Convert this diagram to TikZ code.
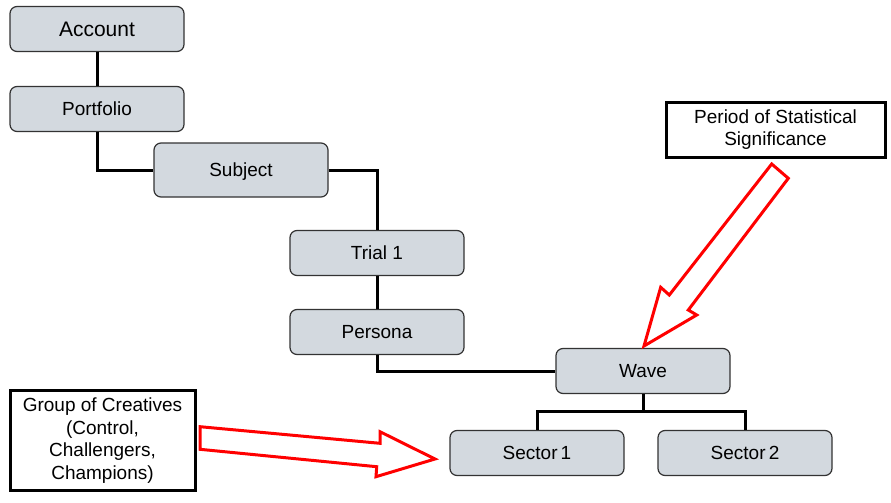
\documentclass[tikz,border=0pt]{standalone}
\usepackage{fontspec}
\setmainfont{Liberation Sans}
\begin{document}
\begin{tikzpicture}[x=1pt,y=-1pt,
  box/.style={draw=black!80, line width=1.2pt, fill=boxfill, rounded corners=7pt,
    minimum width=174pt, minimum height=45pt, inner sep=0pt, text depth=0pt,
    font=\fontsize{19}{23}\selectfont},
  note/.style={draw=black, line width=3pt, fill=white, inner sep=0pt, align=center,
    font=\fontsize{19}{22.8}\selectfont},
  link/.style={draw=black, line width=3pt},
  redarrow/.style={draw=red, line width=3pt, fill=white, line join=miter}]
\definecolor{boxfill}{HTML}{D3D9DF}
\useasboundingbox (0,0) rectangle (891,503);
\node[box, font=\fontsize{21}{25}\selectfont] (acc) at (97,29) {Account};
\node[box] (port) at (97,109) {Portfolio};
\node[box, minimum height=54pt] (subj) at (241,170) {Subject};
\node[box] (trial) at (377,253) {Trial 1};
\node[box] (pers) at (377,332) {Persona};
\node[box] (wave) at (643,371) {Wave};
\node[box] (sec1) at (537,453) {Sector\,1};
\node[box] (sec2) at (745,453) {Sector\,2};
\node[note, minimum width=219pt, minimum height=55pt] (period) at (775.5,129.5) {Period of Statistical\\Significance};
\node[note, minimum width=185pt, minimum height=100pt] (group) at (102.5,440.5) {Group of Creatives\\(Control,\\Challengers,\\Champions)};
\coordinate (wj) at (643,411);
\draw[link] (acc) -- (port);
\draw[link] (port.south) |- (subj.west);
\draw[link] (subj.east) -| (trial.north);
\draw[link] (trial) -- (pers);
\draw[link] (pers.south) |- (wave.west);
\draw[link] (wave.south) -- (wj);
\draw[link] (sec1.north) |- (wj) -| (sec2.north);
\draw[redarrow] (771.7,164) -- (788.3,178.3) -- (688.3,310) -- (696.7,315) -- (644,346) -- (660.7,287.3) -- (669.3,295) -- cycle;
\draw[redarrow] (200,426.7) -- (380,443.3) -- (380,431.7) -- (435,459) -- (376,476.7) -- (376.7,466.7) -- (200,449.3) -- cycle;
\end{tikzpicture}
\end{document}
